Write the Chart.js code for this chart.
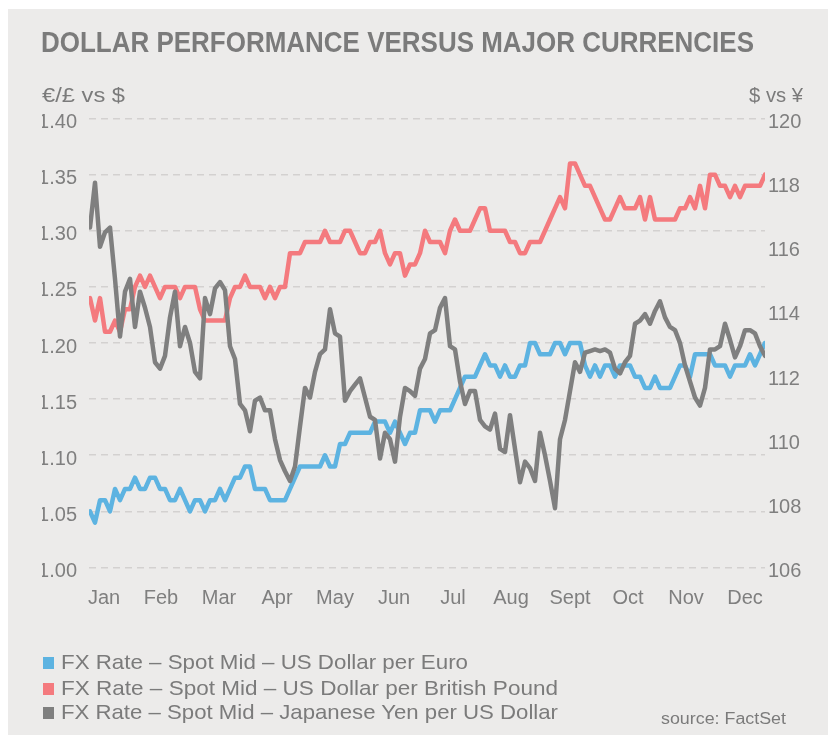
<!DOCTYPE html>
<html><head><meta charset="utf-8">
<script src="https://cdn.jsdelivr.net/npm/chart.js@4"></script>
<style>
html,body{margin:0;padding:0;background:#fff;}
#wrap{position:relative;width:833px;height:735px;overflow:hidden;}
#panel{position:absolute;left:8px;top:9px;width:820px;height:726px;background:#ECEBEA;}
#c{position:absolute;left:0;top:0;}
.t{position:absolute;display:inline-block;white-space:nowrap;color:#7b7b7b;font-family:"Liberation Sans",Arial,sans-serif;transform-origin:0 0;line-height:1;}
.sq{position:absolute;width:11px;height:12px;}
</style></head>
<body><div id="wrap"><div id="panel"></div>
<canvas id="c" width="833" height="735"></canvas>
<div class="t" data-w="713" style="left:41px;top:28px;font-size:29px;font-weight:bold;">DOLLAR PERFORMANCE VERSUS MAJOR CURRENCIES</div>
<div class="t" data-w="83" style="left:42px;top:84px;font-size:21px;">€/£ vs $</div>
<div class="t" data-w="54" style="left:749px;top:84px;font-size:21px;">$ vs ¥</div>
<div class="sq" style="left:43px;top:657px;background:#5DB3E1;"></div>
<div class="sq" style="left:43px;top:683px;background:#F47A7E;"></div>
<div class="sq" style="left:43px;top:707px;background:#7F7F7F;"></div>
<div class="t" id="lg0" data-w="407" style="left:61px;top:651px;font-size:21px;"></div>
<div class="t" id="lg1" data-w="497" style="left:61px;top:677px;font-size:21px;"></div>
<div class="t" id="lg2" data-w="497" style="left:61px;top:701px;font-size:21px;"></div>
<div class="t" data-w="125" style="left:661px;top:711px;font-size:16px;">source: FactSet</div>
</div>
<script>
// ---- data (sampled left to right through the year) ----
const seriesNames = [
  "FX Rate – Spot Mid – US Dollar per Euro",
  "FX Rate – Spot Mid – US Dollar per British Pound",
  "FX Rate – Spot Mid – Japanese Yen per US Dollar"
];
const monthLabels = ["Jan","Feb","Mar","Apr","May","Jun","Jul","Aug","Sept","Oct","Nov","Dec"];
const monthPos = [2.8,14.2,25.8,37.4,49,60.8,72.6,84.2,96,107.6,119.2,131];
const leftTicks = [1.00,1.05,1.10,1.15,1.20,1.25,1.30,1.35,1.40];
const rightTicks = [106,108,110,112,114,116,118,120];

const usdPerEur = [
 1.05,1.04,1.06,1.06,1.05,1.07,1.06,1.07,1.07,1.08,
 1.07,1.07,1.08,1.08,1.07,1.07,1.06,1.06,1.07,1.06,
 1.05,1.06,1.06,1.05,1.06,1.06,1.07,1.06,1.07,1.08,
 1.08,1.09,1.09,1.07,1.07,1.07,1.06,1.06,1.06,1.06,
 1.07,1.08,1.09,1.09,1.09,1.09,1.09,1.10,1.09,1.09,
 1.11,1.11,1.12,1.12,1.12,1.12,1.12,1.13,1.13,1.13,
 1.12,1.13,1.12,1.11,1.12,1.12,1.14,1.14,1.14,1.13,
 1.14,1.14,1.14,1.15,1.16,1.17,1.17,1.17,1.18,1.19,
 1.18,1.18,1.17,1.18,1.17,1.17,1.18,1.18,1.20,1.20,
 1.19,1.19,1.19,1.20,1.20,1.19,1.20,1.20,1.20,1.18,
 1.17,1.18,1.17,1.18,1.18,1.17,1.18,1.18,1.18,1.17,
 1.17,1.16,1.16,1.17,1.16,1.16,1.16,1.17,1.18,1.18,
 1.17,1.19,1.19,1.19,1.19,1.18,1.18,1.18,1.17,1.18,
 1.18,1.18,1.19,1.18,1.19,1.20
];
const usdPerGbp = [
 1.24,1.22,1.24,1.21,1.21,1.22,1.21,1.23,1.23,1.25,
 1.26,1.25,1.26,1.25,1.24,1.25,1.25,1.25,1.24,1.25,
 1.25,1.25,1.23,1.22,1.22,1.22,1.22,1.22,1.24,1.25,
 1.25,1.26,1.25,1.25,1.25,1.24,1.25,1.24,1.25,1.25,
 1.28,1.28,1.28,1.29,1.29,1.29,1.29,1.30,1.29,1.29,
 1.29,1.30,1.30,1.29,1.28,1.28,1.29,1.29,1.30,1.28,
 1.27,1.28,1.28,1.26,1.27,1.27,1.28,1.30,1.29,1.29,
 1.29,1.28,1.30,1.31,1.30,1.30,1.30,1.31,1.32,1.32,
 1.30,1.30,1.30,1.30,1.29,1.29,1.28,1.28,1.29,1.29,
 1.29,1.30,1.31,1.32,1.33,1.32,1.36,1.36,1.35,1.34,
 1.34,1.33,1.32,1.31,1.31,1.32,1.33,1.32,1.32,1.32,
 1.33,1.31,1.33,1.31,1.31,1.31,1.31,1.31,1.32,1.32,
 1.33,1.32,1.34,1.32,1.35,1.35,1.34,1.34,1.33,1.34,
 1.33,1.34,1.34,1.34,1.34,1.35
];
const jpyPerUsd = [
 116.6,118.0,116.0,116.45,116.6,115.0,113.2,114.6,115.0,113.5,
 114.6,114.1,113.5,112.4,112.2,112.6,113.8,114.6,112.9,113.5,
 113.0,112.1,111.9,114.4,113.9,114.7,114.9,114.65,112.9,112.5,
 111.1,110.9,110.25,111.2,111.3,110.9,110.9,110.0,109.35,109.0,
 108.7,109.15,110.4,111.6,111.3,112.1,112.65,112.8,114.05,113.3,
 113.2,111.2,111.5,111.7,111.9,111.3,110.7,110.6,109.4,110.2,
 110.0,109.3,110.7,111.6,111.5,111.35,112.2,112.5,113.3,113.4,
 114.1,114.4,112.9,112.8,111.8,111.1,111.5,111.5,110.6,110.4,
 110.3,110.8,109.7,109.6,110.75,109.7,108.66,109.3,109.1,108.7,
 110.2,109.5,108.7,107.85,110.0,110.6,111.5,112.4,112.1,112.7,
 112.75,112.8,112.75,112.8,112.7,112.2,112.05,112.4,112.6,113.6,
 113.7,113.9,113.6,114.0,114.3,113.8,113.5,113.4,113.0,112.3,
 111.8,111.3,111.05,111.6,112.8,112.8,112.9,113.6,113.1,112.55,
 112.9,113.4,113.4,113.3,112.9,112.6
];
const colors = ["#5DB3E1","#F47A7E","#7F7F7F"];

document.getElementById('lg0').textContent = seriesNames[0];
document.getElementById('lg1').textContent = seriesNames[1];
document.getElementById('lg2').textContent = seriesNames[2];

const pts = arr => arr.map((v, i) => ({x: i, y: v}));
const tickFont = {family: '"Liberation Sans", Arial, sans-serif', size: 20};
const tickColor = '#7f7f7f';

new Chart(document.getElementById('c'), {
  type: 'line',
  data: {
    datasets: [
      {label: seriesNames[0], data: pts(usdPerEur), yAxisID: 'y', borderColor: colors[0], order: 1},
      {label: seriesNames[1], data: pts(usdPerGbp), yAxisID: 'y', borderColor: colors[1], order: 2},
      {label: seriesNames[2], data: pts(jpyPerUsd), yAxisID: 'y2', borderColor: colors[2], order: 0}
    ].map(d => Object.assign(d, {borderWidth: 4.5, pointRadius: 0, tension: 0, fill: false,
      borderJoinStyle: 'round', borderCapStyle: 'round'}))
  },
  options: {
    responsive: false, animation: false,
    layout: {padding: {left: 42, right: 0, top: 118.5, bottom: 107.5}},
    plugins: {legend: {display: false}, tooltip: {enabled: false}, title: {display: false}},
    scales: {
      x: {
        type: 'linear', min: -0.2, max: 135,
        grid: {display: false, drawTicks: false}, border: {display: false},
        afterBuildTicks: s => { s.ticks = monthPos.map(v => ({value: v})); },
        afterFit: s => { s.height = 60; },
        ticks: {autoSkip: false, maxRotation: 0, padding: 19, color: tickColor, font: tickFont,
          callback: (v, i) => monthLabels[i]}
      },
      y: {
        position: 'left', min: 1.0, max: 1.4,
        afterBuildTicks: s => { s.ticks = leftTicks.map(v => ({value: v})); },
        afterFit: s => { s.width = 47; },
        grid: {color: '#D3D1D0', lineWidth: 1.6, drawTicks: false},
        border: {display: false, dash: [7, 5]},
        ticks: {padding: 12, color: tickColor, font: tickFont, labelOffset: 4,
          callback: v => Number(v).toFixed(2)}
      },
      y2: {
        position: 'right', min: 106, max: 120,
        afterBuildTicks: s => { s.ticks = rightTicks.map(v => ({value: v})); },
        afterFit: s => { s.width = 68; },
        grid: {display: false, drawTicks: false}, border: {display: false},
        ticks: {padding: 3, color: tickColor, font: tickFont, labelOffset: 4,
          callback: v => String(v)}
      }
    }
  }
});

function fitTexts() {
  document.querySelectorAll('.t[data-w]').forEach(el => {
    el.style.transform = 'none';
    const w = el.getBoundingClientRect().width;
    const target = parseFloat(el.dataset.w);
    if (w > 0) el.style.transform = 'scaleX(' + (target / w) + ')';
  });
}
fitTexts();
if (document.fonts && document.fonts.ready) document.fonts.ready.then(fitTexts);
</script>
</body></html>
